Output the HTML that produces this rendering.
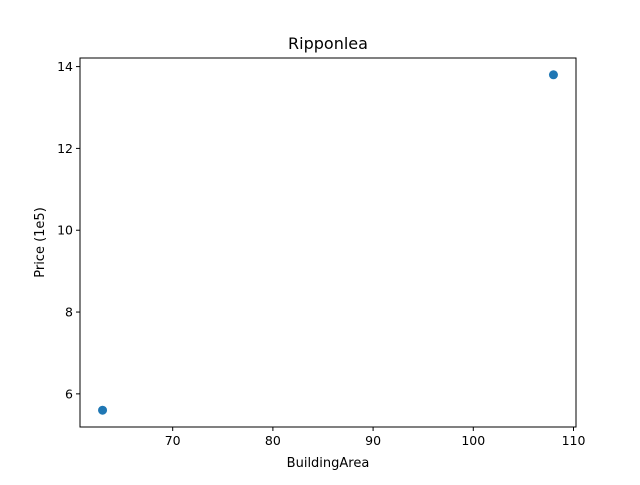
<!DOCTYPE html>
<html><head><meta charset="utf-8"><style>
body{margin:0;background:#fff;}
svg text{font-family:"DejaVu Sans","Liberation Sans",sans-serif;fill:#000;}
</style></head><body>
<svg id="chart" width="640" height="480" xmlns="http://www.w3.org/2000/svg">
<rect width="640" height="480" fill="#fff"/>
<text x="328" y="49" font-size="16" text-anchor="middle">Ripponlea</text>
<g id="ticks"></g>
<g id="points"></g>
<rect x="80" y="58" width="496" height="369" fill="none" stroke="#000" stroke-width="1"/>
<text x="328" y="467" font-size="13" text-anchor="middle">BuildingArea</text>
<text transform="translate(44,242.5) rotate(-90)" font-size="13" text-anchor="middle">Price (1e5)</text>
</svg>
<script>
const xValues = [63, 108];
const yValues = [5.6, 13.8];
const xTicks = [70, 80, 90, 100, 110];
const yTicks = [6, 8, 10, 12, 14];
const X0 = 80, X1 = 576, Y0 = 427, Y1 = 58;
const xmin = 60.75, xmax = 110.25, ymin = 5.19, ymax = 14.21;
function sx(v){return X0 + (v - xmin) / (xmax - xmin) * (X1 - X0);}
function sy(v){return Y0 - (v - ymin) / (ymax - ymin) * (Y0 - Y1);}
const NS = "http://www.w3.org/2000/svg";
const tg = document.getElementById('ticks');
xTicks.forEach(t => {
  const x = sx(t);
  const l = document.createElementNS(NS, 'line');
  l.setAttribute('x1', x); l.setAttribute('x2', x); l.setAttribute('y1', Y0); l.setAttribute('y2', Y0 + 4);
  l.setAttribute('stroke', '#000');
  
  
  tg.appendChild(l);
  const tx = document.createElementNS(NS, 'text');
  tx.setAttribute('x', x); tx.setAttribute('y', Y0 + 18); tx.setAttribute('font-size', '12.5'); tx.setAttribute('text-anchor', 'middle');
  tx.textContent = t;
  
  
  tg.appendChild(tx);
});
yTicks.forEach(t => {
  const y = sy(t);
  const l = document.createElementNS(NS, 'line');
  l.setAttribute('x1', X0 - 4); l.setAttribute('x2', X0); l.setAttribute('y1', y); l.setAttribute('y2', y);
  l.setAttribute('stroke', '#000');
  
  
  tg.appendChild(l);
  const tx = document.createElementNS(NS, 'text');
  tx.setAttribute('x', X0 - 7); tx.setAttribute('y', y + 4.5); tx.setAttribute('font-size', '12.5'); tx.setAttribute('text-anchor', 'end');
  tx.textContent = t;
  
  
  tg.appendChild(tx);
});
const pg = document.getElementById('points');
xValues.forEach((xv, i) => {
  const c = document.createElementNS(NS, 'circle');
  c.setAttribute('cx', sx(xv)); c.setAttribute('cy', sy(yValues[i])); c.setAttribute('r', 4.5);
  c.setAttribute('fill', '#1f77b4');
  
  
  pg.appendChild(c);
});
</script>
</body></html>
